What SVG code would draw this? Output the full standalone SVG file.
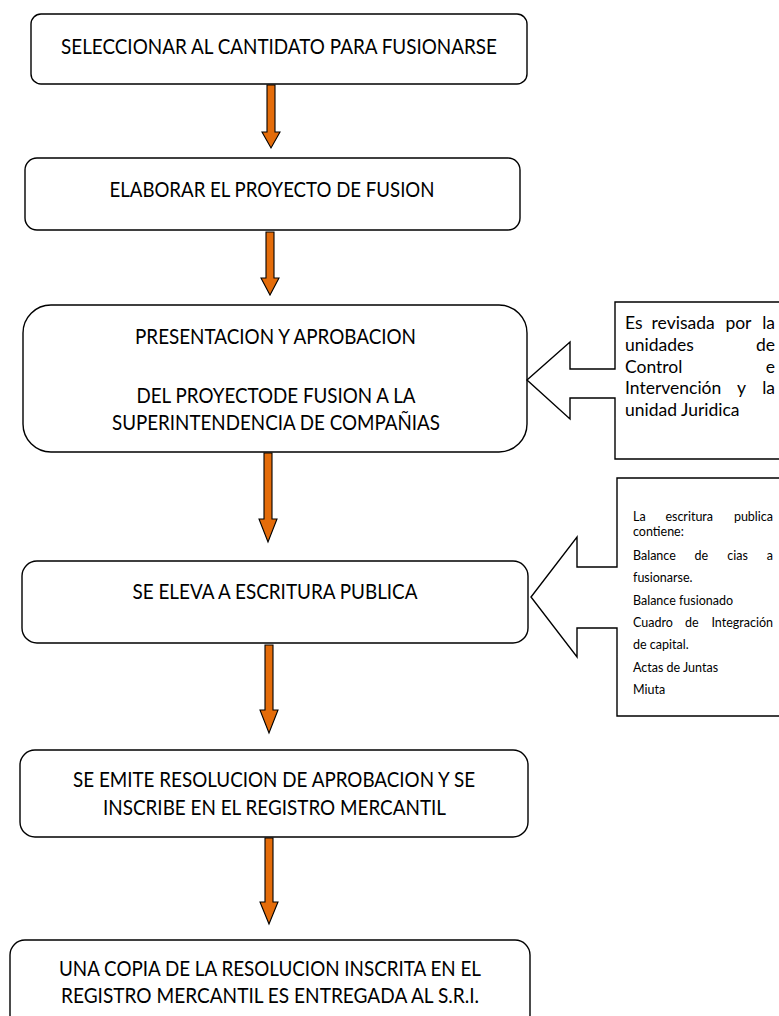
<svg xmlns="http://www.w3.org/2000/svg" width="779" height="1016" viewBox="0 0 779 1016">
<style>
.box{fill:#fff;stroke:#000;stroke-width:1.4}
.t{font-family:Lato,"Liberation Sans",sans-serif;font-size:21px;fill:#000;text-anchor:middle}
.c1{font-family:Lato,"Liberation Sans",sans-serif;font-size:17.5px;fill:#000}
.c2{font-family:Lato,"Liberation Sans",sans-serif;font-size:12.5px;fill:#000}
.e{text-anchor:end}
.arr{fill:#E46C0A;stroke:#000;stroke-width:1.1;stroke-linejoin:miter}
.call{fill:#fff;stroke:#000;stroke-width:1.4}
</style>
<rect width="779" height="1016" fill="#fff"/>
<g id="connectors">
<polygon class="arr" points="267,85 275,85 275,132 280,132 271,148 262,132 267,132"/>
<polygon class="arr" points="266,232 274,232 274,278 279,278 270,295 261,278 266,278"/>
<polygon class="arr" points="264,453 272,453 272,519 277,519 268,542 259,519 264,519"/>
<polygon class="arr" points="265,645 273,645 273,710 278,710 269,733 260,710 265,710"/>
<polygon class="arr" points="265,838 273,838 273,902 278,902 269,924 260,902 265,902"/>
</g>
<g id="n1">
<rect class="box" x="31" y="14" width="496" height="70" rx="10"/>
<text class="t" x="279" y="54" textLength="436" lengthAdjust="spacingAndGlyphs">SELECCIONAR AL CANTIDATO PARA FUSIONARSE</text>
</g>
<g id="n2">
<rect class="box" x="25" y="158" width="495" height="72" rx="12"/>
<text class="t" x="272" y="197" textLength="325" lengthAdjust="spacingAndGlyphs">ELABORAR EL PROYECTO DE FUSION</text>
</g>
<g id="n3">
<rect class="box" x="23" y="305" width="504" height="147" rx="28"/>
<text class="t" x="275.5" y="344" textLength="281" lengthAdjust="spacingAndGlyphs">PRESENTACION Y APROBACION</text>
<text class="t" x="276" y="403" textLength="279" lengthAdjust="spacingAndGlyphs">DEL PROYECTODE FUSION A LA</text>
<text class="t" x="276" y="430" textLength="328" lengthAdjust="spacingAndGlyphs">SUPERINTENDENCIA DE COMPAÑIAS</text>
</g>
<g id="n4">
<rect class="box" x="22" y="561" width="506" height="82" rx="15"/>
<text class="t" x="275" y="599" textLength="285" lengthAdjust="spacingAndGlyphs">SE ELEVA A ESCRITURA PUBLICA</text>
</g>
<g id="n5">
<rect class="box" x="20" y="750" width="508" height="87" rx="15"/>
<text class="t" x="274" y="787" textLength="402" lengthAdjust="spacingAndGlyphs">SE EMITE RESOLUCION DE APROBACION Y SE</text>
<text class="t" x="274.5" y="815" textLength="343" lengthAdjust="spacingAndGlyphs">INSCRIBE EN EL REGISTRO MERCANTIL</text>
</g>
<g id="n6">
<rect class="box" x="10" y="940" width="520" height="90" rx="15"/>
<text class="t" x="270" y="976" textLength="422" lengthAdjust="spacingAndGlyphs">UNA COPIA DE LA RESOLUCION INSCRITA EN EL</text>
<text class="t" x="270" y="1003" textLength="418" lengthAdjust="spacingAndGlyphs">REGISTRO MERCANTIL ES ENTREGADA AL S.R.I.</text>
</g>
<g id="callout1">
<path class="call" d="M781,302 L615,302 L615,369 L570,369 L570,342 L527,380 L570,419 L570,398 L615,398 L615,459 L781,459"/>
<text class="c1" y="329"><tspan x="625">Es</tspan><tspan x="651.6">revisada</tspan><tspan x="725.4">por</tspan><tspan x="775" class="e">la</tspan></text>
<text class="c1" y="351"><tspan x="625">unidades</tspan><tspan x="775" class="e">de</tspan></text>
<text class="c1" y="373"><tspan x="625">Control</tspan><tspan x="775" class="e">e</tspan></text>
<text class="c1" y="394"><tspan x="625">Intervención</tspan><tspan x="737">y</tspan><tspan x="775" class="e">la</tspan></text>
<text class="c1" y="416" x="625">unidad Juridica</text>
</g>
<g id="callout2">
<path class="call" d="M781,478 L617,478 L617,567 L577,567 L577,537 L531,597 L577,657 L577,628 L617,628 L617,716 L781,716"/>
<text class="c2" y="521"><tspan x="633">La</tspan><tspan x="665.4">escritura</tspan><tspan x="773" class="e">publica</tspan></text>
<text class="c2" y="535.5" x="633">contiene:</text>
<text class="c2" y="559.5"><tspan x="633">Balance</tspan><tspan x="694.6">de</tspan><tspan x="727.3">cias</tspan><tspan x="773" class="e">a</tspan></text>
<text class="c2" y="582" x="633">fusionarse.</text>
<text class="c2" y="604.5" x="633">Balance fusionado</text>
<text class="c2" y="627"><tspan x="633">Cuadro</tspan><tspan x="685">de</tspan><tspan x="773" class="e">Integración</tspan></text>
<text class="c2" y="649" x="633">de capital.</text>
<text class="c2" y="671.5" x="633">Actas de Juntas</text>
<text class="c2" y="693.5" x="633">Miuta</text>
</g>
</svg>
